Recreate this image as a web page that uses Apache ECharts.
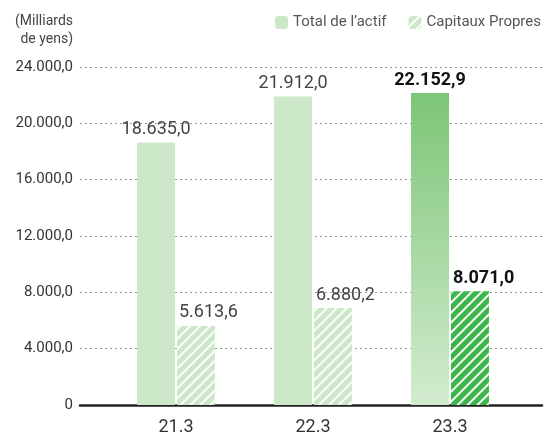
<!DOCTYPE html>
<html>
<head>
<meta charset="utf-8">
<script src="https://cdn.jsdelivr.net/npm/echarts@6/dist/echarts.min.js"></script>
<style>
    html, body {margin: 0; padding: 0; background: #fff;}
    #chart {width: 546px; height: 437px;}
</style>
</head>
<body>
<div id="chart"></div>
<script>
var categories = ['21.3', '22.3', '23.3'];
var totalActif = [18635.0, 21912.0, 22152.9];
var capitauxPropres = [5613.6, 6880.2, 8071.0];
var seriesNames = ['Total de l\u2019actif', 'Capitaux Propres'];
var yTicks = [0, 4000, 8000, 12000, 16000, 20000, 24000];

var chart = echarts.init(document.getElementById('chart'));

// 1234.5 -> 1.234,5
function fmt(v) {
    var parts = v.toFixed(1).split('.');
    var ent = parts[0].replace(/\B(?=(\d{3})+(?!\d))/g, '.');
    return ent + ',' + parts[1];
}

var lastIdx = categories.length - 1;

var totalData = [];
for (var i = 0; i < totalActif.length; i++) {
    var item = {value: totalActif[i]};
    if (i == lastIdx) {
        item.itemStyle = {
            color: new echarts.graphic.LinearGradient(0, 0, 0, 1, [
                {offset: 0, color: '#7cc576'},
                {offset: 1, color: '#d3ebcf'}
            ])
        };
        item.label = {fontWeight: 'bold', color: '#111'};
    }
    totalData.push(item);
}

var capData = [];
for (var i = 0; i < capitauxPropres.length; i++) {
    var item = {value: capitauxPropres[i]};
    if (i == lastIdx) {
        item.itemStyle = {color: '#3db54a'};
        item.label = {fontWeight: 'bold', color: '#111'};
    }
    capData.push(item);
}

var hatch = {
    symbol: 'rect',
    color: 'rgba(255,255,255,0.95)',
    dashArrayX: [1, 0],
    dashArrayY: [2, 5],
    rotation: -Math.PI / 4
};

var option = {
    animation: false,
    textStyle: {fontFamily: 'Roboto'},
    legend: {
        right: 0,
        top: 10,
        itemWidth: 13,
        itemHeight: 13,
        itemGap: 22,
        textStyle: {fontSize: 15, color: '#555'},
        data: seriesNames
    },
    graphic: [{
        type: 'text',
        x: 73,
        y: 12,
        style: {
            text: '(Milliards\nde yens)',
            fill: '#444',
            fontSize: 14,
            lineHeight: 18,
            fontFamily: 'Roboto',
            align: 'right'
        }
    }],
    grid: [
        {left: 80, right: 4, top: 67, bottom: 32},
        {left: 107.5, right: 27.5, top: 67, bottom: 32}
    ],
    xAxis: [
        {
            gridIndex: 0,
            type: 'category',
            data: [''],
            axisLine: {lineStyle: {color: '#222', width: 2.5}},
            axisTick: {show: false},
            axisLabel: {show: false}
        },
        {
            gridIndex: 1,
            type: 'category',
            data: categories,
            axisLine: {show: false},
            axisTick: {show: false},
            axisLabel: {fontSize: 18, color: '#333', margin: 13}
        }
    ],
    yAxis: [
        {
            gridIndex: 0,
            type: 'value',
            min: yTicks[0],
            max: yTicks[yTicks.length - 1],
            interval: 4000,
            axisLine: {show: false},
            axisTick: {show: false},
            axisLabel: {
                fontSize: 15,
                color: '#333',
                margin: 7,
                formatter: function (v) { return v == 0 ? '0' : fmt(v); }
            },
            splitLine: {lineStyle: {color: '#999', type: [2, 3], width: 1}}
        },
        {
            gridIndex: 1,
            type: 'value',
            min: yTicks[0],
            max: yTicks[yTicks.length - 1],
            interval: 4000,
            show: false
        }
    ],
    series: [
        {
            name: seriesNames[0],
            type: 'bar',
            xAxisIndex: 1,
            yAxisIndex: 1,
            barWidth: 38,
            barGap: '5%',
            itemStyle: {color: '#cde8c9'},
            label: {
                show: true,
                position: 'top',
                distance: 4,
                fontSize: 18,
                color: '#444',
                formatter: function (p) { return fmt(p.value); }
            },
            data: totalData
        },
        {
            name: seriesNames[1],
            type: 'bar',
            xAxisIndex: 1,
            yAxisIndex: 1,
            barWidth: 38,
            itemStyle: {color: '#cde8c9', decal: hatch},
            label: {
                show: true,
                position: 'top',
                distance: 4,
                align: 'left',
                offset: [-17, 0],
                fontSize: 18,
                color: '#444',
                formatter: function (p) { return fmt(p.value); }
            },
            data: capData
        }
    ]
};

chart.setOption(option);
</script>
</body>
</html>
